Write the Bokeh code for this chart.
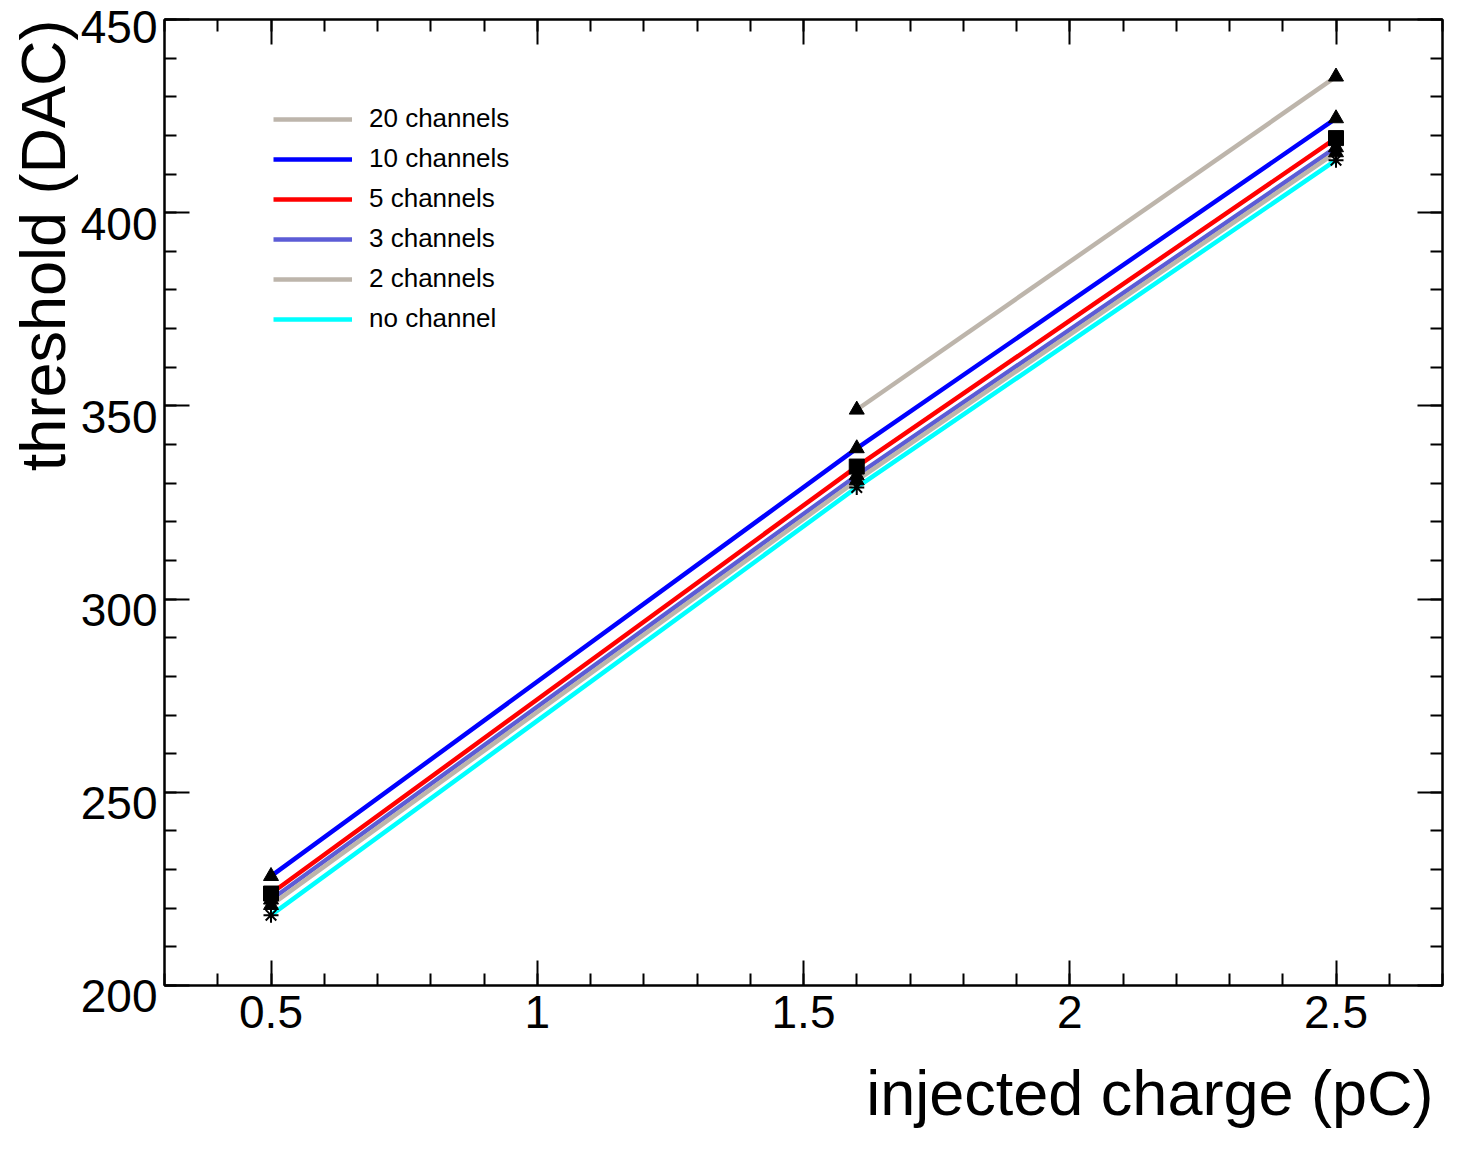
import numpy as np
from bokeh.plotting import figure
from bokeh.models import (Range1d, LinearAxis, FixedTicker, Title, Legend, LegendItem)
from bokeh.embed import file_html
from bokeh.resources import INLINE

# ---- data ----
charge = [0.5, 1.6, 2.5]
charge_20 = [1.6, 2.5]
thr_20ch = [349.0, 435.2]
thr_10ch = [228.3, 339.0, 424.4]
thr_5ch = [223.8, 334.3, 419.3]
thr_3ch = [222.2, 332.0, 416.9]
thr_2ch = [220.8, 330.7, 415.6]
thr_0ch = [218.2, 328.9, 413.6]

series_labels = ["20 channels", "10 channels", "5 channels", "3 channels", "2 channels", "no channel"]
x_ticks = [0.5, 1.0, 1.5, 2.0, 2.5]
x_tick_labels = ["0.5", "1", "1.5", "2", "2.5"]
y_ticks = [200, 250, 300, 350, 400, 450]
y_tick_labels = ["200", "250", "300", "350", "400", "450"]
x_title = "injected charge (pC)"
y_title = "threshold (DAC)"

FONT = "Liberation Sans"

p = figure(width=1455, height=1153, output_backend="svg", toolbar_location=None,
           x_range=Range1d(0.3, 2.7), y_range=Range1d(200, 450),
           min_border_left=164, min_border_right=13, min_border_top=19, min_border_bottom=168,
           x_axis_location=None, y_axis_location=None)
p.xgrid.visible = False
p.ygrid.visible = False
p.outline_line_color = "black"
p.outline_line_width = 2
p.background_fill_color = "white"
p.border_fill_color = "white"

x_minor = [round(0.3 + 0.1 * i, 2) for i in range(25)]
y_minor = list(range(200, 451, 10))

def make_axis(kind, labels_on):
    ax = LinearAxis()
    ax.axis_line_color = "black"
    ax.axis_line_width = 2
    ax.major_tick_in = 25
    ax.major_tick_out = 0
    ax.minor_tick_in = 12
    ax.minor_tick_out = 0
    ax.major_tick_line_color = "black"
    ax.minor_tick_line_color = "black"
    ax.major_tick_line_width = 2
    ax.minor_tick_line_width = 2
    if kind == "x":
        ax.ticker = FixedTicker(ticks=x_ticks, minor_ticks=x_minor)
        ax.major_label_overrides = {t: l for t, l in zip(x_ticks, x_tick_labels)}
        ax.major_label_standoff = 10
    else:
        ax.ticker = FixedTicker(ticks=y_ticks, minor_ticks=y_minor)
        # ROOT draws the y labels slightly below their ticks
        ax.major_label_overrides = {t: ("\n" + l if t != y_ticks[-1] else l)
                                    for t, l in zip(y_ticks, y_tick_labels)}
        ax.major_label_text_line_height = 0.42
        ax.major_label_standoff = 7
    if labels_on:
        ax.major_label_text_font = FONT
        ax.major_label_text_font_size = "46px"
        ax.major_label_text_color = "black"
    else:
        ax.major_label_text_font_size = "0px"
        ax.major_label_standoff = 0
        ax.major_label_overrides = {}
    return ax

p.add_layout(make_axis("x", True), "below")
p.add_layout(make_axis("x", False), "above")
p.add_layout(make_axis("y", True), "left")
p.add_layout(make_axis("y", False), "right")

p.add_layout(Title(text=x_title, align="right", text_font=FONT, text_font_size="63px",
                   text_font_style="normal", text_color="black", standoff=51, offset=9), "below")
p.add_layout(Title(text=y_title, align="right", text_font=FONT, text_font_size="63px",
                   text_font_style="normal", text_color="black", standoff=0, offset=0), "left")

tan = "#bdb5ab"
specs = [
    ("20 channels", charge_20, thr_20ch, tan, "triangle"),
    ("10 channels", charge, thr_10ch, "#0000ff", "triangle"),
    ("5 channels", charge, thr_5ch, "#ff0000", "square"),
    ("3 channels", charge, thr_3ch, "#5c5cd6", "triangle"),
    ("2 channels", charge, thr_2ch, tan, "triangle"),
    ("no channel", charge, thr_0ch, "#00ffff", "asterisk"),
]

line_renderers = []
for lab, xs, ys, col, mk in specs:
    r = p.line(xs, ys, line_color=col, line_width=4.5)
    line_renderers.append((lab, r))
for lab, xs, ys, col, mk in specs:
    if mk == "asterisk":
        p.scatter(xs, ys, marker=mk, size=15, line_color="black", line_width=2)
    else:
        p.scatter(xs, ys, marker=mk, size=15, fill_color="black", line_color="black")

legend = Legend(items=[LegendItem(label=lab, renderers=[r]) for lab, r in line_renderers],
                location=(109, 651), orientation="vertical",
                glyph_width=79, glyph_height=30, label_height=30,
                label_standoff=17, spacing=9, padding=0, margin=0,
                border_line_color=None, background_fill_alpha=0,
                label_text_font=FONT, label_text_font_size="26px", label_text_color="black")
p.add_layout(legend, "center")

open("out.html", "w").write(file_html(p, INLINE))
